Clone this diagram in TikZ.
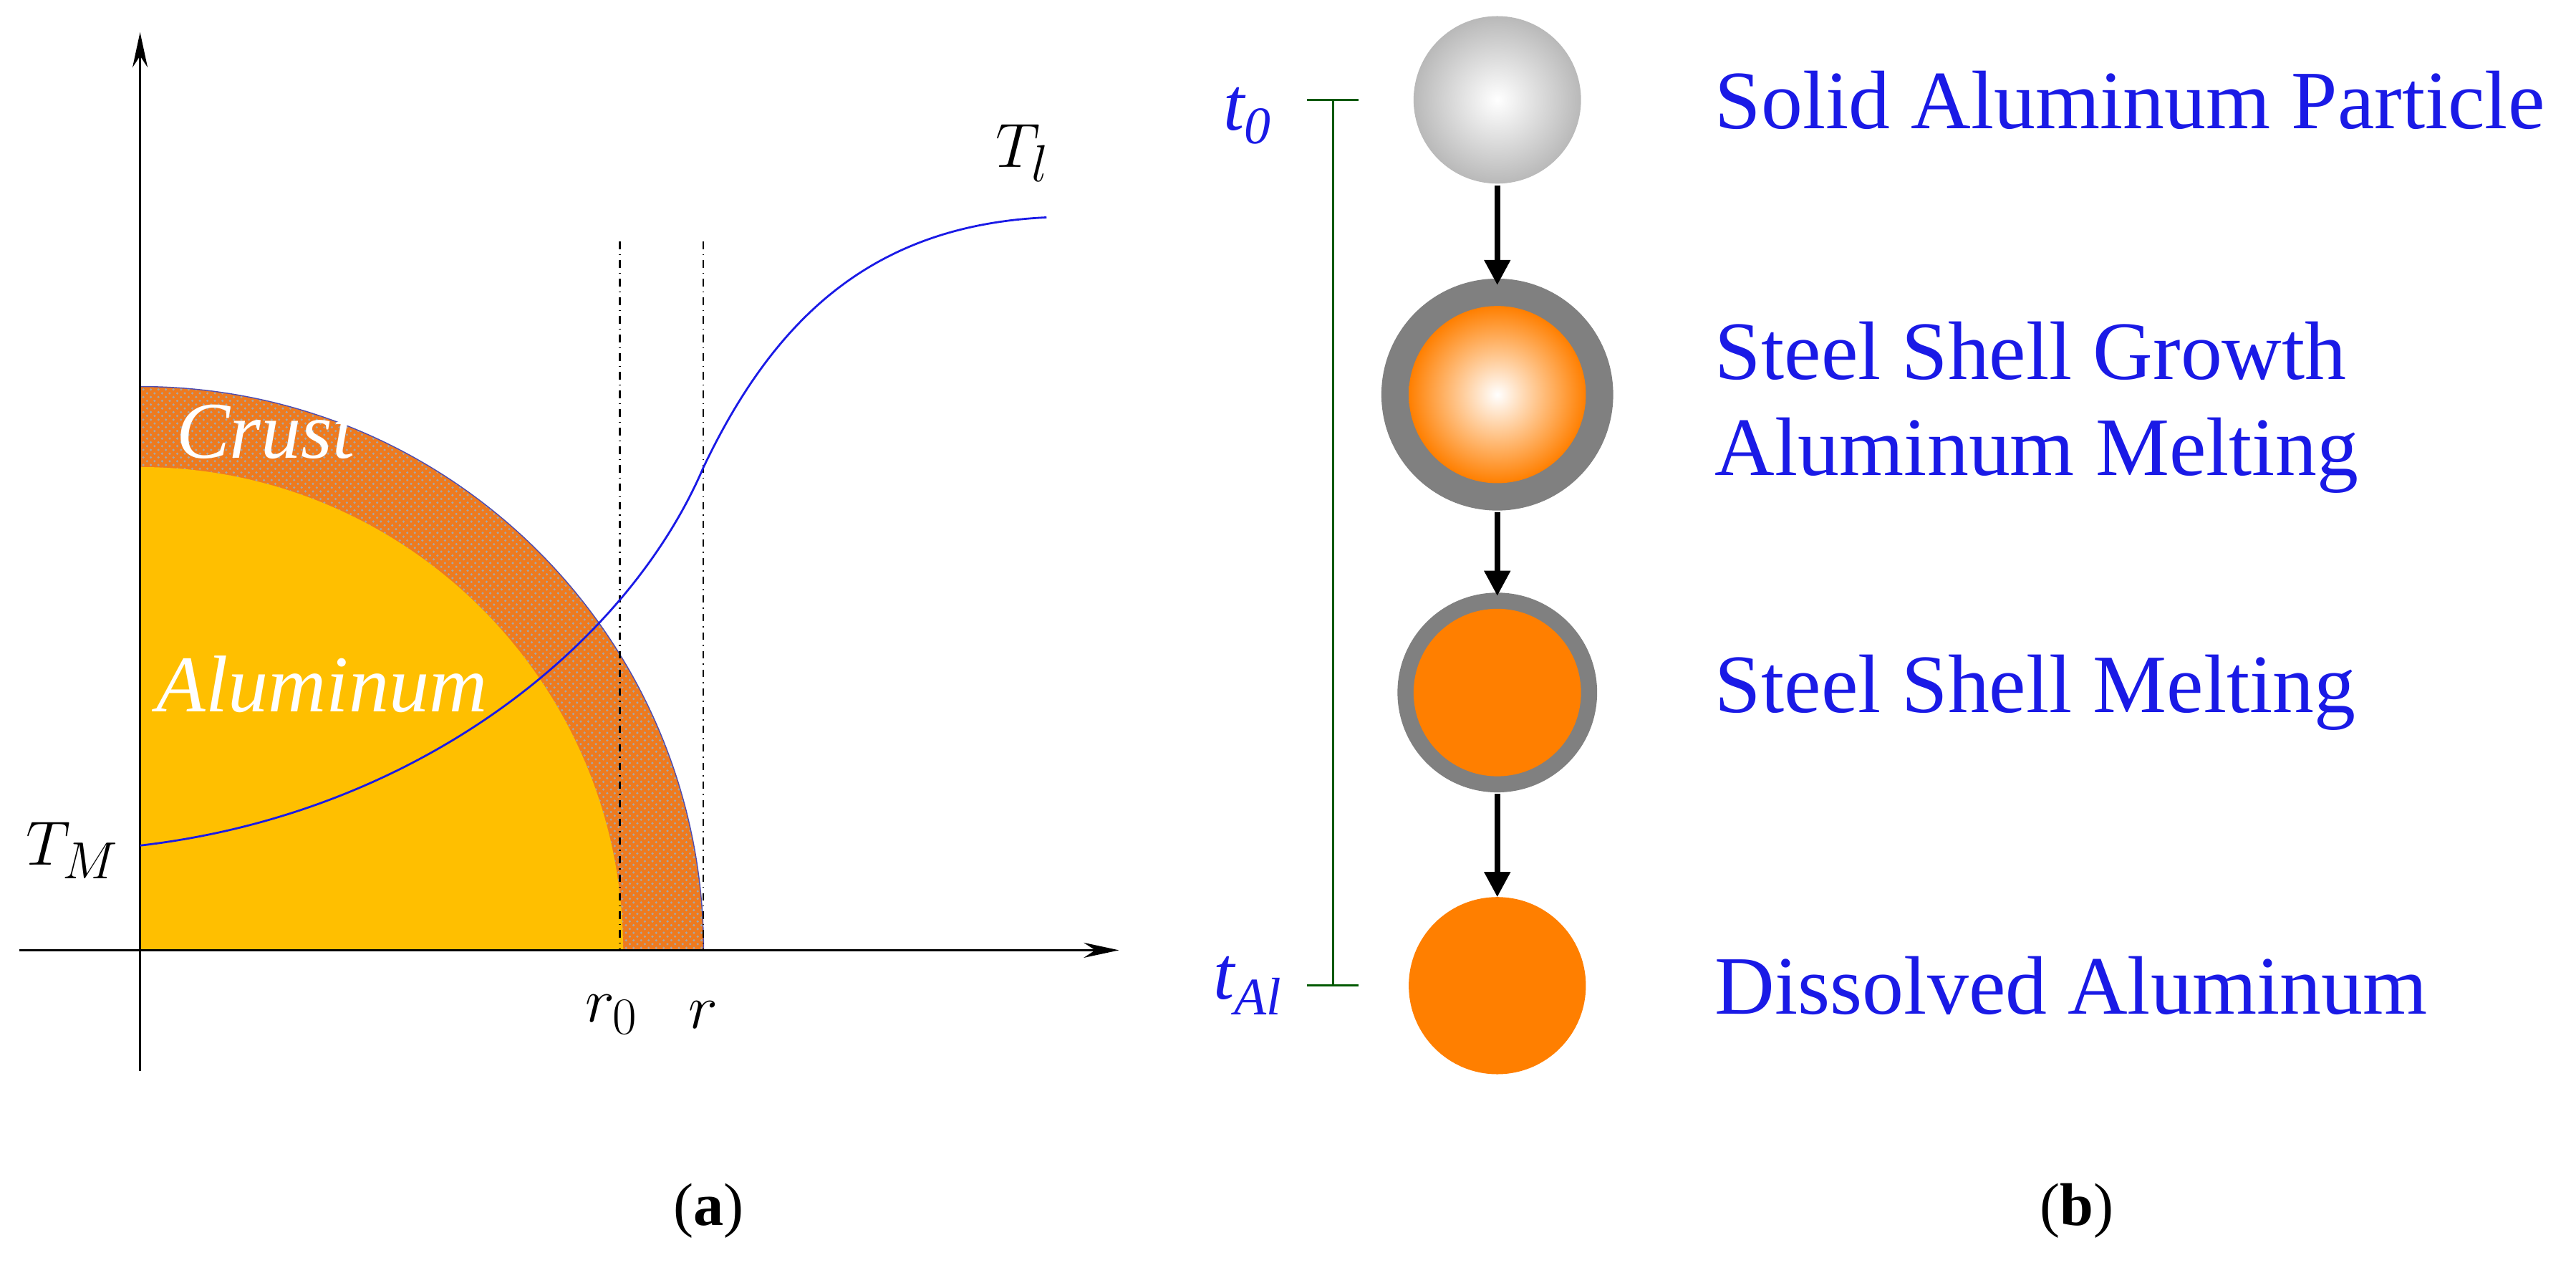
\documentclass[tikz,border=0pt]{standalone}
\usepackage{fontspec}
\setmainfont{Liberation Serif}
\usetikzlibrary{arrows.meta,patterns}
\definecolor{alu}{HTML}{FFBF00}
\definecolor{crust}{HTML}{EE7A1E}
\definecolor{org}{HTML}{FF7F00}
\definecolor{blu}{HTML}{1A1AE6}
\tikzset{
  lbl/.style={font=\fontsize{33}{37}\selectfont, text=blu, anchor=west, inner sep=0},
  tl/.style={font=\fontsize{30}{34}\selectfont\itshape, text=blu, inner sep=0},
  ax/.style={thick, -{Stealth[length=14pt,width=6pt]}},
  step arrow/.style={line width=2.2pt, -{Triangle[length=10pt,width=10pt]}},
  dd/.style={dash dot, semithick, black},
}
\begin{document}
\begin{tikzpicture}[x=0.0225cm,y=-0.0225cm]
\useasboundingbox (0,0) rectangle (1600,790);
% left panel
\fill[crust] (87,590) -- (87,240) arc[start angle=-90,end angle=0,radius=350] -- cycle;
\fill[pattern=crosshatch dots, pattern color=gray!70] (87,590) -- (87,240) arc[start angle=-90,end angle=0,radius=350] -- cycle;
\draw[gray!60!blue, thin] (87,240) arc[start angle=-90,end angle=0,radius=350];
\fill[alu] (87,590) -- (87,290) arc[start angle=-90,end angle=0,radius=300] -- cycle;
\draw[dd] (385,150) -- (385,590);
\draw[dd] (437,150) -- (437,590);
\draw[ax] (12,590) -- (695,590);
\draw[ax] (87,665) -- (87,20);
\draw[blu, thick] (87,525) .. controls (260,505) and (390,400) .. (437,290)
  .. controls (480,200) and (540,140) .. (650,135);
\node[font=\fontsize{32}{36}\selectfont\itshape, text=white] (cr) at (165,268) {Crust};
\node[font=\fontsize{32}{36}\selectfont\itshape, text=white] (al) at (200,425) {Aluminum};
\node[font=\fontsize{30}{34}\selectfont] (tm) at (45,528) {$T_M$};
\node[font=\fontsize{30}{34}\selectfont] (tlab) at (635,95) {$T_l$};
\node[font=\fontsize{30}{34}\selectfont] (r0) at (380,630) {$r_0$};
\node[font=\fontsize{30}{34}\selectfont] (rr) at (437,630) {$r$};
\node[font=\fontsize{24}{28}\selectfont] (ca) at (440,752) {(\textbf{a})};
\node[font=\fontsize{24}{28}\selectfont] (cb) at (1290,752) {(\textbf{b})};
% right panel
\draw[green!35!black, thick] (812,62) -- (844,62) (828,62) -- (828,612) (812,612) -- (844,612);
\node[tl] (t0) at (775,72) {t\textsubscript{0}};
\node[tl] (tal) at (775,612) {t\textsubscript{Al}};
\shade[inner color=white, outer color=gray!55] (930,62) circle (52);
\fill[gray] (930,245) circle (72);
\shade[inner color=white, outer color=org] (930,245) circle (55);
\fill[gray] (930,430) circle (62);
\fill[org] (930,430) circle (52);
\fill[org] (930,612) circle (55);
\coordinate (a1) at (930,115); \coordinate (b1) at (930,177);
\coordinate (a2) at (930,318); \coordinate (b2) at (930,370);
\coordinate (a3) at (930,493); \coordinate (b3) at (930,557);
\draw[step arrow] (a1) -- (b1);
\draw[step arrow] (a2) -- (b2);
\draw[step arrow] (a3) -- (b3);
\node[lbl] (l1) at (1065,62) {Solid Aluminum Particle};
\node[lbl] (l2) at (1065,218) {Steel Shell Growth};
\node[lbl] (l3) at (1065,283) {Aluminum Melting};
\node[lbl] (l4) at (1065,430) {Steel Shell Melting};
\node[lbl] (l5) at (1065,612) {Dissolved Aluminum};
\end{tikzpicture}
\end{document}
